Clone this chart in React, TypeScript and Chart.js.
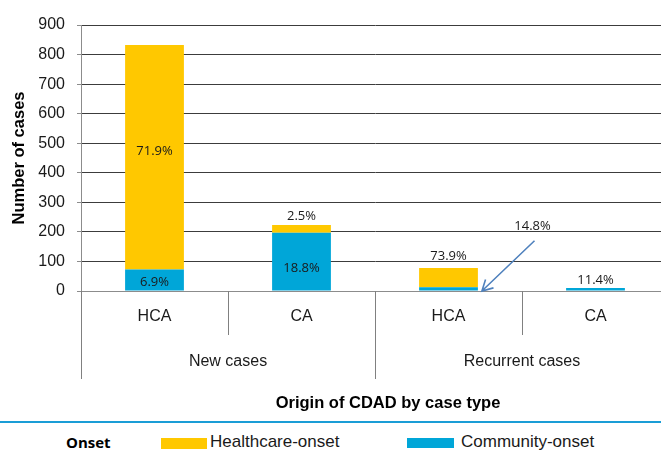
import React, { useEffect, useRef } from 'react';
import { Chart, registerables } from 'chart.js';

Chart.register(...registerables);

// ---- data ----
const categories = ['HCA', 'CA', 'HCA', 'CA'];
const caseGroups = ['New cases', 'Recurrent cases'];
const groupSize = 2;
const seriesNames = ['Community-onset', 'Healthcare-onset'];
const communityOnset = [73, 197, 13, 10];
const healthcareOnset = [759, 26, 65, 0];
const communityPct = ['6.9%', '18.8%', '14.8%', '11.4%'];
const healthcarePct = ['71.9%', '2.5%', '73.9%', ''];
const yMax = 900;
const yStep = 100;
const yTitle = 'Number of cases';
const xTitle = 'Origin of CDAD by case type';
const legendTitle = 'Onset';
// callout (label with arrow) for recurrent HCA community-onset, in data units
const calloutTextValue = 220;
const calloutArrowStartValue = 170;

// ---- styles ----
const YELLOW = '#FFC800';
const BLUE = '#00A6D8';
const coPlace = ['center', 'center', 'callout', 'above'];
const coDy = [2, 7, 0, -8];
const hcPlace = ['center', 'above', 'above', 'none'];
const hcDy = [-6, -9, -12, 0];

const overlay = {
  id: 'overlay',
  afterDatasetsDraw(chart: any) {
    const { ctx, chartArea: ca, scales } = chart;
    const x = scales.x;
    const y = scales.y;
    const step = x.getPixelForValue(1) - x.getPixelForValue(0);
    ctx.save();

    // category labels
    ctx.fillStyle = '#1a1a1a';
    ctx.textAlign = 'center';
    ctx.textBaseline = 'middle';
    ctx.font = '16px "Liberation Sans", Arial, sans-serif';
    categories.forEach((c, i) => ctx.fillText(c, x.getPixelForValue(i), ca.bottom + 26));

    // separators
    ctx.strokeStyle = '#808080';
    ctx.lineWidth = 1;
    for (let i = 0; i <= categories.length; i++) {
      const bx = Math.round(x.getPixelForValue(0) - step / 2 + i * step) + 0.5;
      const long = i % groupSize === 0;
      ctx.beginPath();
      ctx.moveTo(bx, ca.bottom);
      ctx.lineTo(bx, ca.bottom + (long ? 88 : 44));
      ctx.stroke();
    }

    // group labels
    caseGroups.forEach((g, gi) => {
      const cx = x.getPixelForValue(gi * groupSize) + ((groupSize - 1) * step) / 2;
      ctx.fillText(g, cx, ca.bottom + 71);
    });

    // axis title
    ctx.fillStyle = '#000';
    ctx.font = 'bold 16.5px "Liberation Sans", Arial, sans-serif';
    ctx.fillText(xTitle, 388, ca.bottom + 112);

    // percentage labels
    ctx.fillStyle = '#1a1a1a';
    ctx.font = '13px "Open Sans", sans-serif';
    const metaC = chart.getDatasetMeta(0);
    const metaH = chart.getDatasetMeta(1);
    categories.forEach((_, i) => {
      const ec = metaC.data[i];
      const eh = metaH.data[i];
      // community
      const pc = coPlace[i];
      if (pc === 'center') {
        ctx.fillText(communityPct[i], ec.x, (ec.y + ec.base) / 2 + coDy[i]);
      } else if (pc === 'above') {
        ctx.fillText(communityPct[i], ec.x, ec.y + coDy[i]);
      } else if (pc === 'callout') {
        ctx.fillText(communityPct[i], ec.x + 84, y.getPixelForValue(calloutTextValue));
        const sx = ec.x + 86;
        const sy = y.getPixelForValue(calloutArrowStartValue);
        const tx = ec.x + ec.width / 2 + 4;
        const ty = y.getPixelForValue(0);
        ctx.strokeStyle = '#4F81BD';
        ctx.lineWidth = 1.6;
        ctx.beginPath();
        ctx.moveTo(sx, sy);
        ctx.lineTo(tx, ty);
        const ang = Math.atan2(ty - sy, tx - sx);
        const L = 12;
        const spread = 0.5;
        ctx.moveTo(tx - L * Math.cos(ang - spread), ty - L * Math.sin(ang - spread));
        ctx.lineTo(tx, ty);
        ctx.lineTo(tx - L * Math.cos(ang + spread), ty - L * Math.sin(ang + spread));
        ctx.stroke();
      }
      // healthcare
      const ph = hcPlace[i];
      if (ph === 'center') {
        ctx.fillText(healthcarePct[i], eh.x, (eh.y + eh.base) / 2 + hcDy[i]);
      } else if (ph === 'above') {
        ctx.fillText(healthcarePct[i], eh.x, eh.y + hcDy[i]);
      }
    });
    ctx.restore();
  },
};

export default function App() {
  const ref = useRef<HTMLCanvasElement | null>(null);
  useEffect(() => {
    if (!ref.current) return;
    const chart = new Chart(ref.current, {
      type: 'bar',
      data: {
        labels: categories,
        datasets: [
          { label: seriesNames[0], data: communityOnset, backgroundColor: BLUE, borderWidth: 0 },
          { label: seriesNames[1], data: healthcareOnset, backgroundColor: YELLOW, borderWidth: 0 },
        ],
      },
      options: {
        responsive: false,
        devicePixelRatio: 1,
        animation: false,
        layout: { padding: { top: 25, right: 11, bottom: 127, left: 0 } },
        datasets: { bar: { barPercentage: 0.4, categoryPercentage: 1 } },
        plugins: { legend: { display: false }, tooltip: { enabled: false } },
        scales: {
          x: { stacked: true, display: false },
          y: {
            stacked: true,
            min: 0,
            max: yMax,
            ticks: {
              stepSize: yStep,
              color: '#1a1a1a',
              padding: 12,
              font: { family: '"Liberation Sans", Arial, sans-serif', size: 16 },
            },
            grid: {
              color: (c: any) => (c.tick && c.tick.value === 0 ? '#8c8c8c' : '#3c3c3c'),
              lineWidth: 1,
              tickLength: 4,
              tickColor: '#8c8c8c',
            },
            border: { color: '#8c8c8c', width: 1 },
            title: {
              display: true,
              text: yTitle,
              color: '#000',
              font: { family: '"Liberation Sans", Arial, sans-serif', size: 16.5, weight: 'bold' },
              padding: { top: 10, bottom: 0 },
            },
            afterFit: (s: any) => {
              s.width = 81;
            },
          },
        },
      },
      plugins: [overlay],
    });
    return () => chart.destroy();
  }, []);

  const textBase: React.CSSProperties = {
    position: 'absolute',
    whiteSpace: 'nowrap',
    lineHeight: '20px',
    color: '#1a1a1a',
  };

  return (
    <div style={{ position: 'fixed', left: 0, top: 0, width: 661, height: 453, overflow: 'hidden', background: '#fff' }}>
      <canvas ref={ref} width={680} height={418} style={{ position: 'absolute', left: 0, top: 0 }} />
      <div style={{ position: 'absolute', left: 0, top: 421, width: 661, height: 2, background: '#1A9DD6' }} />
      <span style={{ ...textBase, left: 66, top: 432, fontFamily: '"Open Sans", sans-serif', fontWeight: 'bold', fontSize: 15, color: '#000' }}>
        {legendTitle}
      </span>
      <div style={{ position: 'absolute', left: 161, top: 438, width: 46, height: 11, background: YELLOW }} />
      <span style={{ ...textBase, left: 210, top: 432, fontFamily: '"Liberation Sans", Arial, sans-serif', fontSize: 17 }}>
        {seriesNames[1]}
      </span>
      <div style={{ position: 'absolute', left: 407, top: 438, width: 47, height: 10, background: BLUE }} />
      <span style={{ ...textBase, left: 461, top: 432, fontFamily: '"Liberation Sans", Arial, sans-serif', fontSize: 17 }}>
        {seriesNames[0]}
      </span>
    </div>
  );
}
